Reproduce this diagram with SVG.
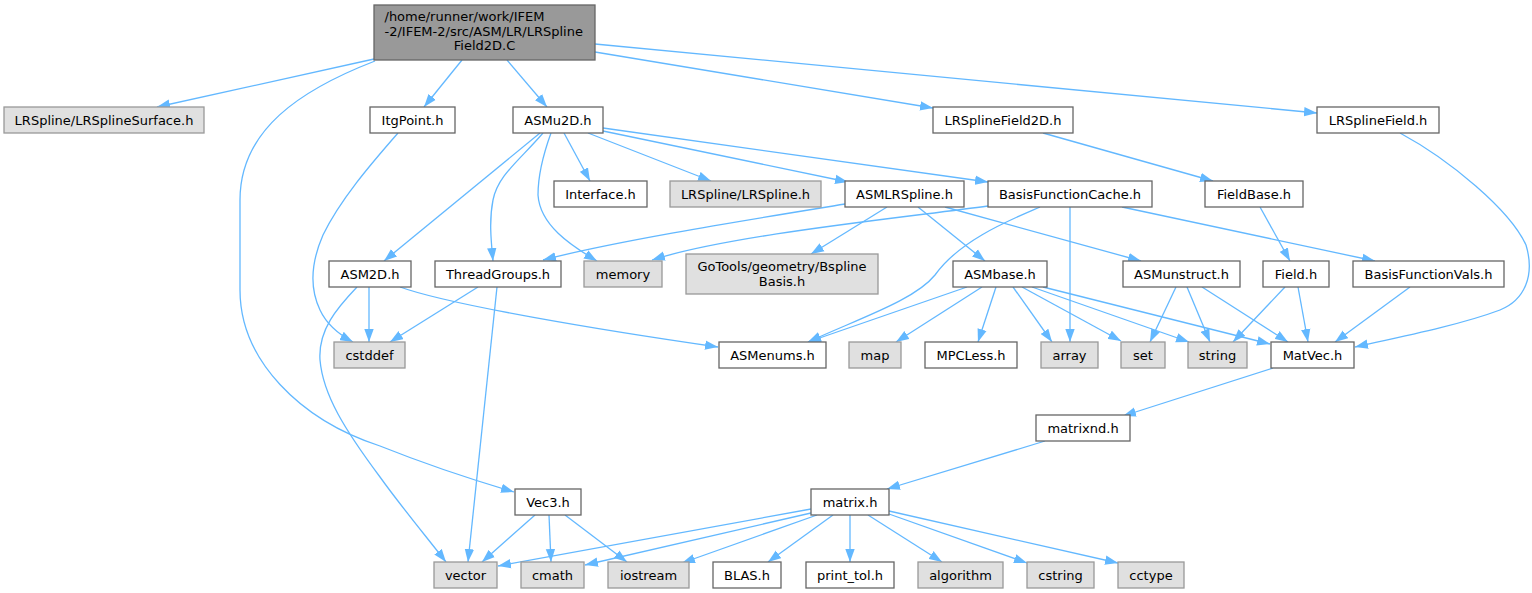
<svg xmlns="http://www.w3.org/2000/svg" width="1532" height="593" viewBox="0 0 1532 593">
<defs>
<style>
.n rect{fill:#fff;stroke:#666;stroke-width:1.3}
.g rect{fill:#e0e0e0;stroke:#999;stroke-width:1.3}
.r rect{fill:#999;stroke:#666;stroke-width:1.3}
text{font-family:"DejaVu Sans","Liberation Sans",sans-serif;font-size:13px;fill:#000;text-anchor:middle}
#edges path{fill:none;stroke:#63b8ff;stroke-width:1.3;marker-end:url(#a)}
</style>
<marker id="a" markerUnits="userSpaceOnUse" markerWidth="13" markerHeight="10" refX="13" refY="5" orient="auto" viewBox="0 0 13 10"><path d="M0,0.3 L13,5 L0,9.7 z" fill="#63b8ff"/></marker>
</defs>
<rect width="1532" height="593" fill="#fff"/>
<g id="edges">
<path d="M374,59 L157,107"/>
<path d="M462,60 L424,107"/>
<path d="M507,60 L547,107"/>
<path d="M595,52 L933,108"/>
<path d="M595,44 L1317,113"/>
<path d="M375,61 C300,90 240,130 240,200 L240,290 C240,360 300,420 380,446 C420,462 470,479 514,492"/>
<path d="M398,133 C370,165 340,200 323,235 C313,258 308,285 320,310 C327,325 338,334 353,342"/>
<path d="M540,133 L384,261"/>
<path d="M543,133 C520,160 498,175 493,200 C489,220 491,240 493,261"/>
<path d="M551,133 C543,155 538,175 538,195 C540,225 570,245 597,261"/>
<path d="M564,133 L590,181"/>
<path d="M588,133 L711,181"/>
<path d="M603,131 L848,182"/>
<path d="M603,128 L988,182"/>
<path d="M1043,133 L1213,181"/>
<path d="M1400,133 C1450,160 1510,210 1526,245 C1535,275 1525,300 1500,310 C1460,325 1400,337 1355,347"/>
<path d="M845,204 C760,218 620,240 543,260"/>
<path d="M887,207 L811,254"/>
<path d="M918,207 L985,261"/>
<path d="M945,207 L1141,261"/>
<path d="M988,206 C900,218 730,235 652,260"/>
<path d="M1040,207 C1010,220 960,240 935,275 C915,300 860,318 808,342"/>
<path d="M1070,207 L1070,342"/>
<path d="M1122,207 L1375,261"/>
<path d="M1260,207 L1290,261"/>
<path d="M369,287 L369,342"/>
<path d="M357,287 C337,308 318,330 320,360 C323,395 345,430 380,477 C400,505 425,535 446,562"/>
<path d="M400,287 C450,305 600,330 718,347"/>
<path d="M478,287 L390,342"/>
<path d="M497,287 L468,562"/>
<path d="M967,287 L808,342"/>
<path d="M982,287 L896,342"/>
<path d="M996,287 L978,342"/>
<path d="M1013,287 L1052,342"/>
<path d="M1022,287 L1121,341"/>
<path d="M1032,287 L1189,342"/>
<path d="M1043,287 L1270,344"/>
<path d="M1176,287 L1150,342"/>
<path d="M1187,287 L1210,342"/>
<path d="M1202,287 L1288,342"/>
<path d="M1285,287 L1233,342"/>
<path d="M1298,287 L1308,342"/>
<path d="M1410,287 L1335,342"/>
<path d="M1273,368 L1123,416"/>
<path d="M1045,441 L887,489"/>
<path d="M535,515 L482,562"/>
<path d="M549,515 L551,562"/>
<path d="M565,515 L627,562"/>
<path d="M811,509 L498,566"/>
<path d="M811,513 L585,565"/>
<path d="M817,515 L682,563"/>
<path d="M833,515 L768,562"/>
<path d="M850,515 L850,562"/>
<path d="M868,515 L942,562"/>
<path d="M889,514 L1027,563"/>
<path d="M889,511 L1118,563"/>
</g>
<g id="root" class="r"><rect x="374" y="5" width="221" height="55"/>
<text x="384.5" y="21" style="text-anchor:start">/home/runner/work/IFEM</text>
<text x="384.5" y="35.5" style="text-anchor:start">-2/IFEM-2/src/ASM/LR/LRSpline</text>
<text x="484.5" y="50">Field2D.C</text></g>
<g id="n_lrsurf" class="g"><rect x="4" y="107" width="200" height="26"/><text x="104" y="124.5">LRSpline/LRSplineSurface.h</text></g>
<g id="n_itg" class="n"><rect x="370" y="107" width="85" height="26"/><text x="412.5" y="124.5">ItgPoint.h</text></g>
<g id="n_asmu2d" class="n"><rect x="513" y="107" width="90" height="26"/><text x="558" y="124.5">ASMu2D.h</text></g>
<g id="n_lrf2d" class="n"><rect x="933" y="107" width="140" height="26"/><text x="1003" y="124.5">LRSplineField2D.h</text></g>
<g id="n_lrf" class="n"><rect x="1317" y="107" width="122" height="26"/><text x="1378" y="124.5">LRSplineField.h</text></g>
<g id="n_iface" class="n"><rect x="554" y="181" width="93" height="26"/><text x="600.5" y="198.5">Interface.h</text></g>
<g id="n_lrspline" class="g"><rect x="670" y="181" width="151" height="26"/><text x="745.5" y="198.5">LRSpline/LRSpline.h</text></g>
<g id="n_asmlr" class="n"><rect x="845" y="181" width="119" height="26"/><text x="904.5" y="198.5">ASMLRSpline.h</text></g>
<g id="n_bfc" class="n"><rect x="988" y="181" width="164" height="26"/><text x="1070" y="198.5">BasisFunctionCache.h</text></g>
<g id="n_fieldbase" class="n"><rect x="1205" y="181" width="98" height="26"/><text x="1254" y="198.5">FieldBase.h</text></g>
<g id="n_asm2d" class="n"><rect x="329" y="261" width="82" height="26"/><text x="370" y="278.5">ASM2D.h</text></g>
<g id="n_thread" class="n"><rect x="435" y="261" width="126" height="26"/><text x="498" y="278.5">ThreadGroups.h</text></g>
<g id="n_memory" class="g"><rect x="584" y="261" width="78" height="26"/><text x="623" y="278.5">memory</text></g>
<g id="n_gotools" class="g"><rect x="686" y="254" width="192" height="40"/><text x="782" y="271">GoTools/geometry/Bspline</text><text x="782" y="285.5">Basis.h</text></g>
<g id="n_asmbase" class="n"><rect x="953" y="261" width="94" height="26"/><text x="1000" y="278.5">ASMbase.h</text></g>
<g id="n_asmun" class="n"><rect x="1123" y="261" width="117" height="26"/><text x="1181.5" y="278.5">ASMunstruct.h</text></g>
<g id="n_field" class="n"><rect x="1263" y="261" width="66" height="26"/><text x="1296" y="278.5">Field.h</text></g>
<g id="n_bfv" class="n"><rect x="1353" y="261" width="151" height="26"/><text x="1428.5" y="278.5">BasisFunctionVals.h</text></g>
<g id="n_cstddef" class="g"><rect x="334" y="342" width="71" height="26"/><text x="369.5" y="359.5">cstddef</text></g>
<g id="n_asmenums" class="n"><rect x="719" y="342" width="107" height="26"/><text x="772.5" y="359.5">ASMenums.h</text></g>
<g id="n_map" class="g"><rect x="849" y="342" width="52" height="26"/><text x="875" y="359.5">map</text></g>
<g id="n_mpc" class="n"><rect x="925" y="342" width="92" height="26"/><text x="971" y="359.5">MPCLess.h</text></g>
<g id="n_array" class="g"><rect x="1041" y="342" width="57" height="26"/><text x="1069.5" y="359.5">array</text></g>
<g id="n_set" class="g"><rect x="1121" y="342" width="44" height="26"/><text x="1143" y="359.5">set</text></g>
<g id="n_string" class="g"><rect x="1188" y="342" width="59" height="26"/><text x="1217.5" y="359.5">string</text></g>
<g id="n_matvec" class="n"><rect x="1271" y="342" width="83" height="26"/><text x="1312.5" y="359.5">MatVec.h</text></g>
<g id="n_matrixnd" class="n"><rect x="1036" y="415" width="94" height="26"/><text x="1083" y="432.5">matrixnd.h</text></g>
<g id="n_vec3" class="n"><rect x="515" y="489" width="66" height="26"/><text x="548" y="506.5">Vec3.h</text></g>
<g id="n_matrix" class="n"><rect x="811" y="489" width="78" height="26"/><text x="850" y="506.5">matrix.h</text></g>
<g id="n_vector" class="g"><rect x="434" y="562" width="63" height="26"/><text x="465.5" y="579.5">vector</text></g>
<g id="n_cmath" class="g"><rect x="521" y="562" width="63" height="26"/><text x="552.5" y="579.5">cmath</text></g>
<g id="n_iostream" class="g"><rect x="608" y="562" width="81" height="26"/><text x="648.5" y="579.5">iostream</text></g>
<g id="n_blas" class="n"><rect x="713" y="562" width="68" height="26"/><text x="747" y="579.5">BLAS.h</text></g>
<g id="n_printtol" class="n"><rect x="806" y="562" width="88" height="26"/><text x="850" y="579.5">print_tol.h</text></g>
<g id="n_algorithm" class="g"><rect x="918" y="562" width="85" height="26"/><text x="960.5" y="579.5">algorithm</text></g>
<g id="n_cstring" class="g"><rect x="1027" y="562" width="67" height="26"/><text x="1060.5" y="579.5">cstring</text></g>
<g id="n_cctype" class="g"><rect x="1118" y="562" width="66" height="26"/><text x="1151" y="579.5">cctype</text></g>
</svg>
